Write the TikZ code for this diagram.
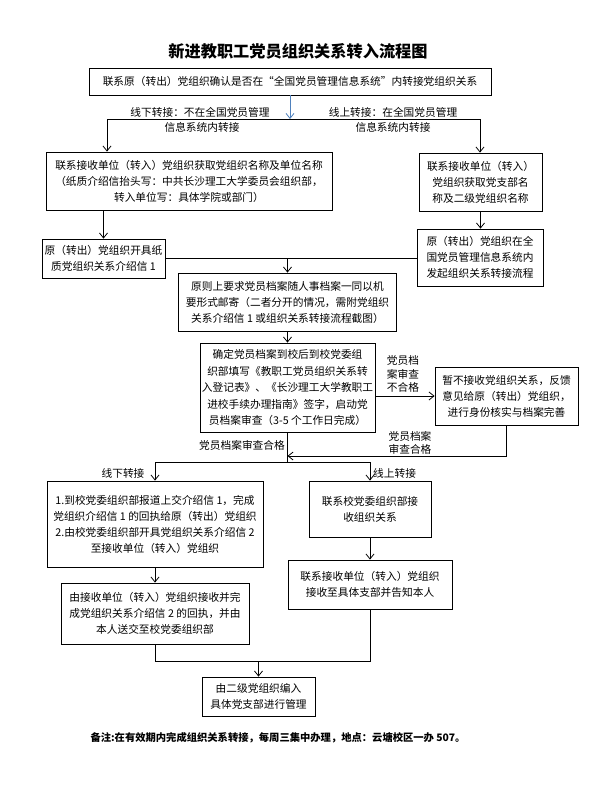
\documentclass[tikz,border=0pt]{standalone}
\usepackage{fontspec}
\setmainfont{Noto Sans CJK SC}
\usetikzlibrary{arrows.meta}
\definecolor{steel}{RGB}{79,129,189}
\begin{document}
\begin{tikzpicture}[x=1pt,y=-1pt,
 box/.style={draw, line width=0.8pt, align=center, inner sep=0pt, anchor=center, font=\fontsize{10.7}{16}\selectfont},
 lbl/.style={align=center, inner sep=0pt, font=\fontsize{10.7}{13.5}\selectfont},
 arr/.style={-{Straight Barb[length=5pt,width=8pt,line width=0.8pt]}, line width=0.8pt},
 ln/.style={line width=0.8pt}]
\useasboundingbox (0,0) rectangle (597,785);
\fill[white] (0,0) rectangle (597,785);

\node[font=\fontsize{16.2}{17}\selectfont\bfseries] (T) at (298,51) {新进教职工党员组织关系转入流程图};

\node[box, minimum width=402pt, minimum height=27pt] (A) at (290,81.5) {联系原（转出）党组织确认是否在“全国党员管理信息系统”内转接党组织关系};
\node[box, minimum width=286pt, minimum height=58pt] (B) at (189,181) {联系接收单位（转入）党组织获取党组织名称及单位名称\\（纸质介绍信抬头写：中共长沙理工大学委员会组织部，\\转入单位写：具体学院或部门）};
\node[box, minimum width=123pt, minimum height=58pt] (C) at (480.5,182) {联系接收单位（转入）\\党组织获取党支部名\\称及二级党组织名称};
\node[box, minimum width=126pt, minimum height=57pt] (C2) at (480,257.5) {原（转出）党组织在全\\国党员管理信息系统内\\发起组织关系转接流程};
\node[box, minimum width=123pt, minimum height=39pt] (D) at (103.5,258.5) {原（转出）党组织开具纸\\质党组织关系介绍信 1};
\node[box, minimum width=218pt, minimum height=58pt] (E) at (287.5,302) {原则上要求党员档案随人事档案一同以机\\要形式邮寄（二者分开的情况，需附党组织\\关系介绍信 1 或组织关系转接流程截图）};
\node[box, minimum width=175pt, minimum height=89pt, font=\fontsize{10.7}{16.5}\selectfont] (F) at (287.5,387.5) {确定党员档案到校后到校党委组\\织部填写《教职工党员组织关系转\\入登记表》、《长沙理工大学教职工\\进校手续办理指南》签字，启动党\\员档案审查（3-5 个工作日完成）};
\node[box, minimum width=143pt, minimum height=58pt] (G) at (506.5,396) {暂不接收党组织关系，反馈\\意见给原（转出）党组织，\\进行身份核实与档案完善};
\node[box, minimum width=216pt, minimum height=86pt] (H) at (155,524) {1.到校党委组织部报道上交介绍信 1，完成\\党组织介绍信 1 的回执给原（转出）党组织\\2.由校党委组织部开具党组织关系介绍信 2\\至接收单位（转入）党组织};
\node[box, minimum width=122pt, minimum height=56pt] (I) at (370,509) {联系校党委组织部接\\收组织关系};
\node[box, minimum width=164pt, minimum height=49pt] (J) at (370,584.5) {联系接收单位（转入）党组织\\接收至具体支部并告知本人};
\node[box, minimum width=188pt, minimum height=61pt] (K) at (155,613.5) {由接收单位（转入）党组织接收并完\\成党组织关系介绍信 2 的回执，并由\\本人送交至校党委组织部};
\node[box, minimum width=113pt, minimum height=39pt] (L) at (258.5,696.5) {由二级党组织编入\\具体党支部进行管理};

\node[font=\fontsize{10.3}{12}\selectfont\bfseries] (N) at (278,738) {备注:在有效期内完成组织关系转接，每周三集中办理，地点：云塘校区一办 507。};

% top split
\coordinate (s0) at (290,119);
\coordinate (sl) at (107,119);
\coordinate (sr) at (480,119);
\draw[arr, steel, line width=0.6pt] (A.south -| s0) -- (s0);
\draw[ln] (sl) -- (sr);
\draw[arr] (sl) -- (sl |- B.north);
\draw[arr] (sr) -- (sr |- C.north);
\node[lbl] (l1a) at (200,112) {线下转接：不在全国党员管理};
\node[lbl] (l1b) at (202,127) {信息系统内转接};
\node[lbl] (l2a) at (393,112) {线上转接：在全国党员管理};
\node[lbl] (l2b) at (393,127) {信息系统内转接};

\draw[arr] (D.north |- B.south) -- (D.north);
\draw[arr] (C.south) -- (C.south |- C2.north);
\draw[line width=1.7pt] (D.east) -- (D.east -| C2.west);
\draw[arr] (E.north |- D.east) -- (E.north);
\draw[arr] (E.south) -- (F.north);

\draw[arr] (G.west -| F.east) -- (G.west);
\node[lbl, anchor=south] (l3) at (403,393) {党员档\\案审查\\不合格};

\coordinate (m1) at (287.5,456);
\draw[arr] (G.south) |- (m1);
\node[lbl] (l4) at (410,443) {党员档案\\审查合格};

\coordinate (m2) at (287.5,462);
\coordinate (hl) at (155,462);
\coordinate (hr) at (370,462);
\draw[ln] (F.south) -- (m2);
\draw[ln] (hl) -- (hr);
\node[lbl, anchor=east] (l5) at (285,445) {党员档案审查合格};
\draw[arr] (hl) -- (H.north);
\draw[arr] (hr) -- (I.north);
\node[lbl] (l6) at (123,473) {线下转接};
\node[lbl, anchor=west] (l7) at (373,473) {线上转接};

\draw[arr] (I.south) -- (J.north);
\draw[arr] (H.south) -- (K.north);

\coordinate (bl) at (155,661);
\coordinate (bm) at (258.5,661);
\draw[ln] (K.south) |- (J.south |- bl) -- (J.south);
\draw[arr] (bm) -- (L.north);
\end{tikzpicture}
\end{document}
